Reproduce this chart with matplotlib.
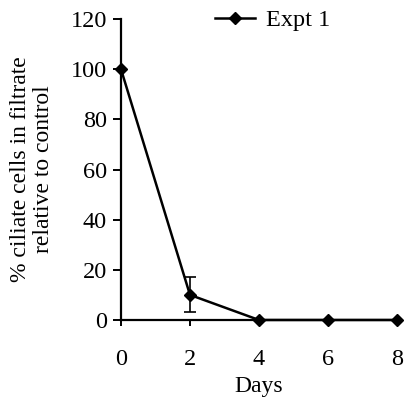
import matplotlib
matplotlib.use('Agg')
import matplotlib.pyplot as plt
from matplotlib.lines import Line2D

days = [0, 2, 4, 6, 8]
ciliates = [100, 10, 0, 0, 0]
err_low = [0, 7, 0, 0, 0]
err_high = [0, 7, 0, 0, 0]
series_name = 'Expt 1'

plt.rcParams['font.family'] = ['Liberation Serif', 'DejaVu Serif']

fig = plt.figure(figsize=(4.04, 3.97), dpi=100)
ax = fig.add_axes([0.2995, 0.194, 0.683, 0.758])

ax.errorbar(days, ciliates, yerr=[err_low, err_high], color='black', lw=1.8,
            marker='D', markersize=6, capsize=4, elinewidth=1.2, capthick=1.2,
            clip_on=False)

ax.set_xlim(0, 8)
ax.set_ylim(0, 120)
ax.set_xticks(days)
ax.set_yticks(range(0, 121, 20))
ax.spines['top'].set_visible(False)
ax.spines['right'].set_visible(False)
for s in ['left', 'bottom']:
    ax.spines[s].set_linewidth(1.6)
ax.tick_params(axis='y', direction='out', length=6, width=1.4, labelsize=17.5, pad=4)
ax.tick_params(axis='x', direction='out', length=4, width=1.4, labelsize=17.5, pad=17)

ax.set_xlabel('Days', fontsize=17, labelpad=4)
ax.set_ylabel('% ciliate cells in filtrate\nrelative to control', fontsize=17,
              labelpad=12, linespacing=1.1)

handle = Line2D([], [], color='black', lw=1.8, marker='D', markersize=6)
ax.legend([handle], [series_name], loc='upper left', bbox_to_anchor=(0.26, 1.105),
          frameon=False, fontsize=17.5, handlelength=1.65, handletextpad=0.45)

fig.savefig('out.png', dpi=100)
